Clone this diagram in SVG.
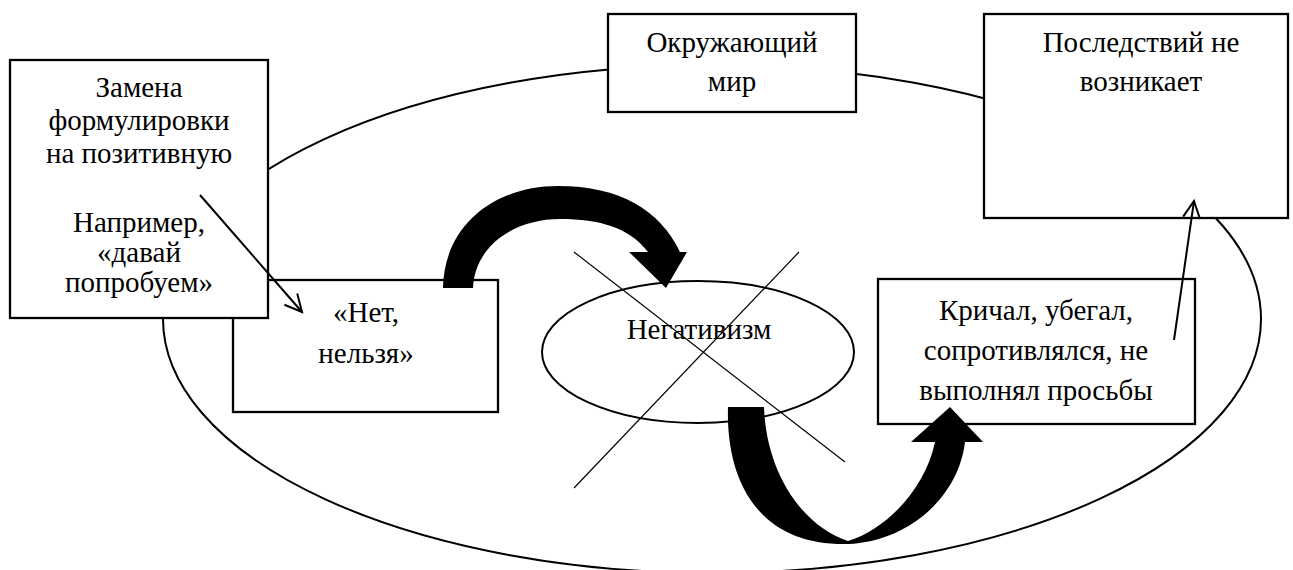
<svg xmlns="http://www.w3.org/2000/svg" width="1293" height="570" viewBox="0 0 1293 570">
<style>
.box{fill:#fff;stroke:#000;stroke-width:2.3}
.thin{fill:none;stroke:#000;stroke-width:2}
.cross{fill:none;stroke:#000;stroke-width:1.2}
.big{fill:#000;stroke:none}
</style>
<defs>
<marker id="open" markerUnits="userSpaceOnUse" markerWidth="30" markerHeight="30" viewBox="-20 -15 30 30" refX="0" refY="0" orient="auto">
<path d="M-17,-8.5 L0,0 L-17,8.5" fill="none" stroke="#000" stroke-width="2"/>
</marker>
</defs>
<rect width="1293" height="570" fill="#fff"/>
<g id="world-ellipse">
<ellipse cx="712" cy="319" rx="549" ry="254" fill="none" stroke="#000" stroke-width="2"/>
</g>
<g id="node-net">
<rect class="box" x="233" y="280" width="265" height="132"/>
<text font-family="'Liberation Serif'" font-size="29" text-anchor="middle" x="366" y="322">«Нет,</text>
<text font-family="'Liberation Serif'" font-size="29" text-anchor="middle" x="366" y="363">нельзя»</text>
</g>
<g id="node-zamena">
<rect class="box" x="10" y="60" width="258" height="258"/>
<text font-family="'Liberation Serif'" font-size="29" text-anchor="middle" x="139" y="97">Замена</text>
<text font-family="'Liberation Serif'" font-size="29" text-anchor="middle" x="139" y="130">формулировки</text>
<text font-family="'Liberation Serif'" font-size="29" text-anchor="middle" x="139" y="163">на позитивную</text>
<text font-family="'Liberation Serif'" font-size="29" text-anchor="middle" x="139" y="232">Например,</text>
<text font-family="'Liberation Serif'" font-size="29" text-anchor="middle" x="139" y="262">«давай</text>
<text font-family="'Liberation Serif'" font-size="29" text-anchor="middle" x="139" y="292">попробуем»</text>
</g>
<g id="node-world">
<rect class="box" x="608" y="14" width="248" height="98"/>
<text font-family="'Liberation Serif'" font-size="29" text-anchor="middle" x="732" y="52">Окружающий</text>
<text font-family="'Liberation Serif'" font-size="29" text-anchor="middle" x="732" y="91">мир</text>
</g>
<g id="node-consequences">
<rect class="box" x="984" y="14" width="304" height="204"/>
<text font-family="'Liberation Serif'" font-size="29" text-anchor="middle" x="1141" y="52">Последствий не</text>
<text font-family="'Liberation Serif'" font-size="29" text-anchor="middle" x="1141" y="91">возникает</text>
</g>
<g id="node-negativism">
<ellipse cx="698" cy="352" rx="156" ry="71" fill="#fff" stroke="#000" stroke-width="2"/>
<text font-family="'Liberation Serif'" font-size="29" text-anchor="middle" x="699" y="339">Негативизм</text>
</g>
<g id="node-behaviour">
<rect class="box" x="878" y="279" width="317" height="145"/>
<text font-family="'Liberation Serif'" font-size="29" text-anchor="middle" x="1036" y="320">Кричал, убегал,</text>
<text font-family="'Liberation Serif'" font-size="29" text-anchor="middle" x="1036" y="360">сопротивлялся, не</text>
<text font-family="'Liberation Serif'" font-size="29" text-anchor="middle" x="1036" y="400">выполнял просьбы</text>
</g>
<g id="cross-out">
<line class="cross" x1="574" y1="252" x2="845" y2="462"/>
<line class="cross" x1="799" y1="252" x2="574" y2="488"/>
</g>
<g id="connectors">
<path class="thin" d="M200,195 L302,312" marker-end="url(#open)"/>
<path class="thin" d="M1174,340 L1194,201" marker-end="url(#open)"/>
<path class="big" d="M443,288 C444,225 495,186 558,186 C620,186 660,210 680,252 L687,252 L666,288 L629,252 L648,252 C630,228 600,219 560,219 C515,219 475,245 473,288 Z"/>
<path class="big" d="M728,407 L764,407 C766,470 800,525 848,541 C885,530 925,490 935,442 L911,442 L950,407 L983,442 L965,442 C958,500 905,542 848,544 C750,546 726,470 728,407 Z"/>
</g>
</svg>
